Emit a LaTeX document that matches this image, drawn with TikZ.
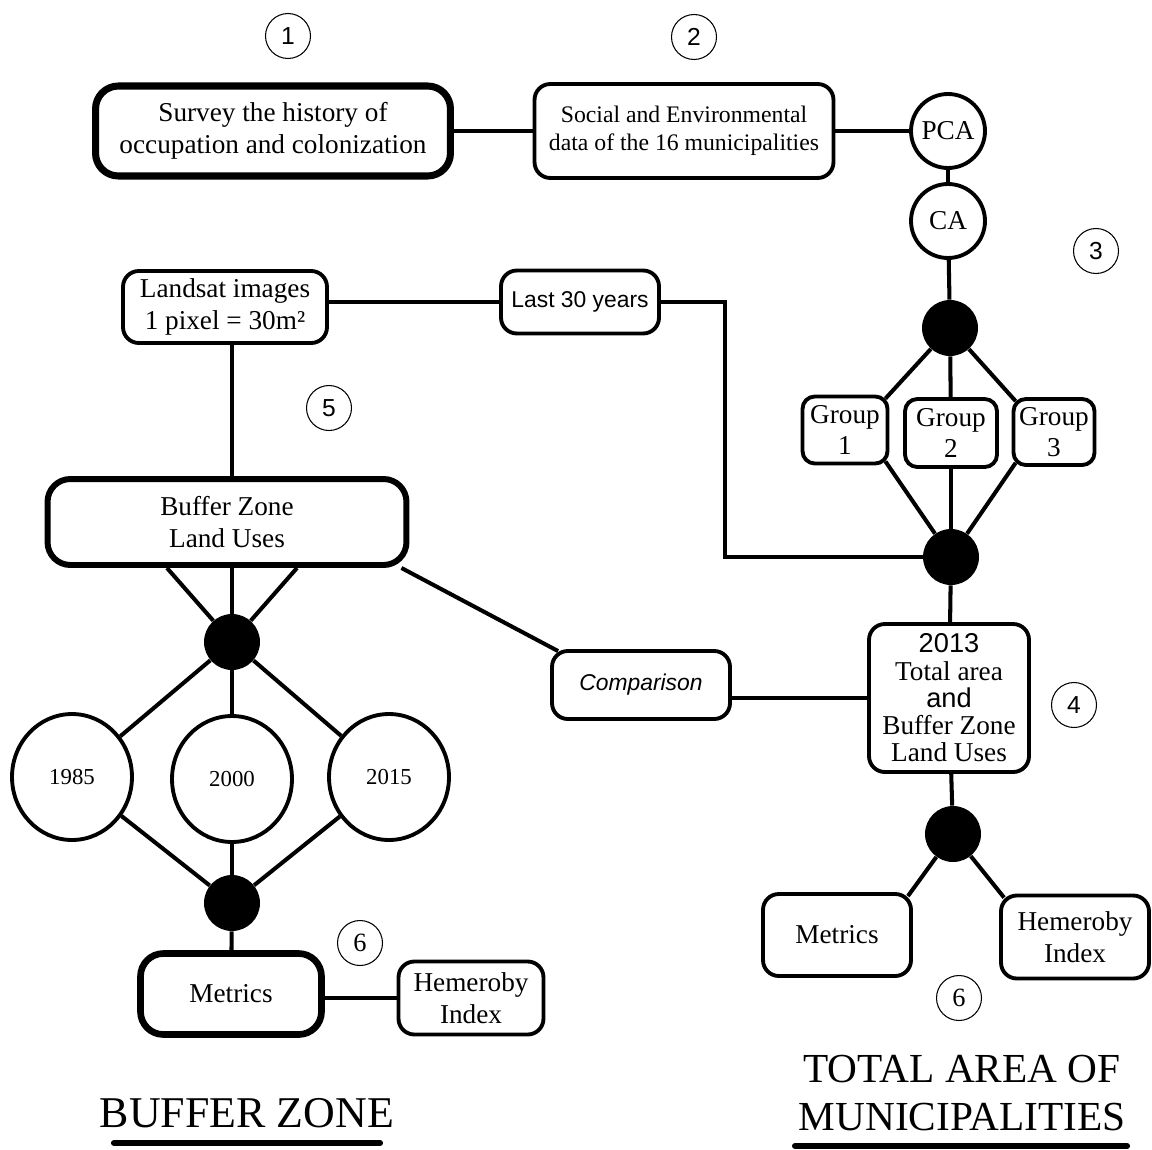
\documentclass[tikz,border=0pt]{standalone}
\usepackage{fontspec}
\setmainfont{Liberation Serif}
\setsansfont{Liberation Sans}
\usetikzlibrary{shapes,calc}

\begin{document}
\begin{tikzpicture}[x=0.02cm,y=-0.02cm,
  box/.style={draw,line width=2.2pt,rounded corners=9pt,align=center,inner sep=0pt,font=\fontsize{15.5}{18}\selectfont},
  bigbox/.style={box,line width=4pt,rounded corners=13pt},
  num/.style={draw,circle,line width=0.6pt,minimum size=0.9cm,inner sep=0pt,font=\sffamily\fontsize{14}{14}\selectfont},
  dot/.style={circle,fill,minimum size=1.12cm,inner sep=0pt},
  yr/.style={draw,ellipse,line width=2.2pt,minimum width=2.4cm,minimum height=2.52cm,inner sep=0pt,font=\fontsize{13}{13}\selectfont},
  ring/.style={draw,circle,line width=2.2pt,minimum size=1.48cm,inner sep=0pt,font=\fontsize{15.5}{18}\selectfont},
  link/.style={line width=2.3pt},
  ul/.style={line width=3.5pt,line cap=round}]
\useasboundingbox (0,0) rectangle (1152,1149);

% step numbers
\node [num] (n1) at (288,36) {1};
\node [num] (n2) at (694,37) {2};
\node [num] (n3) at (1096,251) {3};
\node [num] (n4) at (1074,705) {4};
\node [num] (n5) at (329,408) {5};
\node [num,font=\fontsize{15}{15}\selectfont] (n6a) at (360,943) {6};
\node [num,font=\fontsize{15}{15}\selectfont] (n6b) at (959,998) {6};

% top row
\node [bigbox,minimum width=7.1cm,minimum height=1.8cm] (hist) at (273,131) {Survey the history of\\occupation and colonization};
\node [box,minimum width=5.98cm,minimum height=1.88cm,font=\fontsize{13.5}{16}\selectfont] (data) at (684,131) {Social and Environmental\\data of the 16 municipalities};
\node [ring] (pca) at (948,131) {PCA};
\node [ring] (ca) at (948,221) {CA};
\draw [link] (hist) -- (data);
\draw [link] (data) -- (pca);
\draw [link] (pca) -- (ca);

% groups
\node [dot] (d1) at (950,328) {};
\node [box,rounded corners=7pt,minimum width=1.7cm,minimum height=1.34cm] (g1) at (845,430) {Group\\1};
\node [box,rounded corners=7pt,minimum width=1.84cm,minimum height=1.36cm] (g2) at (951,433) {Group\\2};
\node [box,rounded corners=7pt,minimum width=1.62cm,minimum height=1.32cm] (g3) at (1054,432) {Group\\3};
\node [dot] (d2) at (951,557) {};
\draw [link] (ca) -- (d1);
\draw [link] (d1) -- ($(g1.north east)+(-4,4)$);
\draw [link] (d1) -- (g2);
\draw [link] (d1) -- ($(g3.north west)+(4,4)$);
\draw [link] ($(g1.south east)+(-4,-4)$) -- (d2);
\draw [link] (g2) -- (d2);
\draw [link] ($(g3.south west)+(4,-4)$) -- (d2);

% total area
\node [box,minimum width=3.2cm,minimum height=2.96cm,font=\fontsize{15.5}{15.5}\selectfont] (tot) at (949,698) {{\sffamily 2013}\\Total area\\{\sffamily and}\\Buffer Zone\\Land Uses};
\node [dot] (d3) at (953,834) {};
\node [box,minimum width=2.96cm,minimum height=1.64cm] (metr) at (837,935) {Metrics};
\node [box,minimum width=2.96cm,minimum height=1.66cm] (hemr) at (1075,937) {Hemeroby\\Index};
\draw [link] (d2) -- (tot);
\draw [link] (tot) -- (d3);
\draw [link] (d3) -- ($(metr.north east)+(-5,4)$);
\draw [link] (d3) -- ($(hemr.north west)+(5,4)$);

% landsat and buffer zone
\node [box,minimum width=4.08cm,minimum height=1.44cm] (land) at (225,307) {Landsat images\\1 pixel = 30m²};
\node [box,minimum width=3.16cm,minimum height=1.26cm,font=\sffamily\fontsize{13}{15}\selectfont] (last) at (580,302) {Last 30 years};
\draw [link] (last.west -| land.east) -- (last.west);
\draw [link] (last.east) -- ++(64,0) |- (d2);
\node [bigbox,line width=3.4pt,minimum width=7.18cm,minimum height=1.72cm] (bz) at (227,522) {Buffer Zone\\Land Uses};
\draw [link] (land.south -| bz.south) ++(5,0) -- ($(bz.north)+(5,0)$);
\node [dot] (d4) at (232,642) {};
\foreach \dx in {-65,0,65}
  \draw [link] ($(bz.south)+(5,0)+(\dx,0)$) -- (d4);

\node [yr] (y85) at (72,777) {1985};
\node [yr] (y00) at (232,779) {2000};
\node [yr] (y15) at (389,777) {2015};
\node [dot] (d5) at (232,903) {};
\foreach \y in {y85,y00,y15} {
  \draw [link] (d4) -- (\y);
  \draw [link] (\y) -- (d5);
}
\node [bigbox,line width=3.8pt,minimum width=3.62cm,minimum height=1.62cm] (metl) at (231,994) {Metrics};
\node [box,minimum width=2.9cm,minimum height=1.46cm] (heml) at (471,998) {Hemeroby\\Index};
\draw [link] (d5) -- (metl);
\draw [link] (heml.west -| metl.east) -- (heml.west);

% comparison
\node [box,minimum width=3.56cm,minimum height=1.36cm,font=\sffamily\itshape\fontsize{13}{15}\selectfont] (cmp) at (641,685) {Comparison};
\draw [link] ($(bz.south east)+(-8,0)$) -- ($(cmp.north west)+(8,2)$);
\draw [link] (tot.west -| cmp.east) -- (tot.west);

% titles
\node [font=\fontsize{25}{29}\selectfont] (bzt) at (247,1113) {BUFFER ZONE};
\draw [ul] (114,1143) -- (380,1143);
\node [font=\fontsize{23.5}{27.5}\selectfont,align=center] (tat) at (962,1093) {TOTAL AREA OF\\MUNICIPALITIES};
\draw [ul] (795,1146) -- (1127,1146);
\end{tikzpicture}
\end{document}
